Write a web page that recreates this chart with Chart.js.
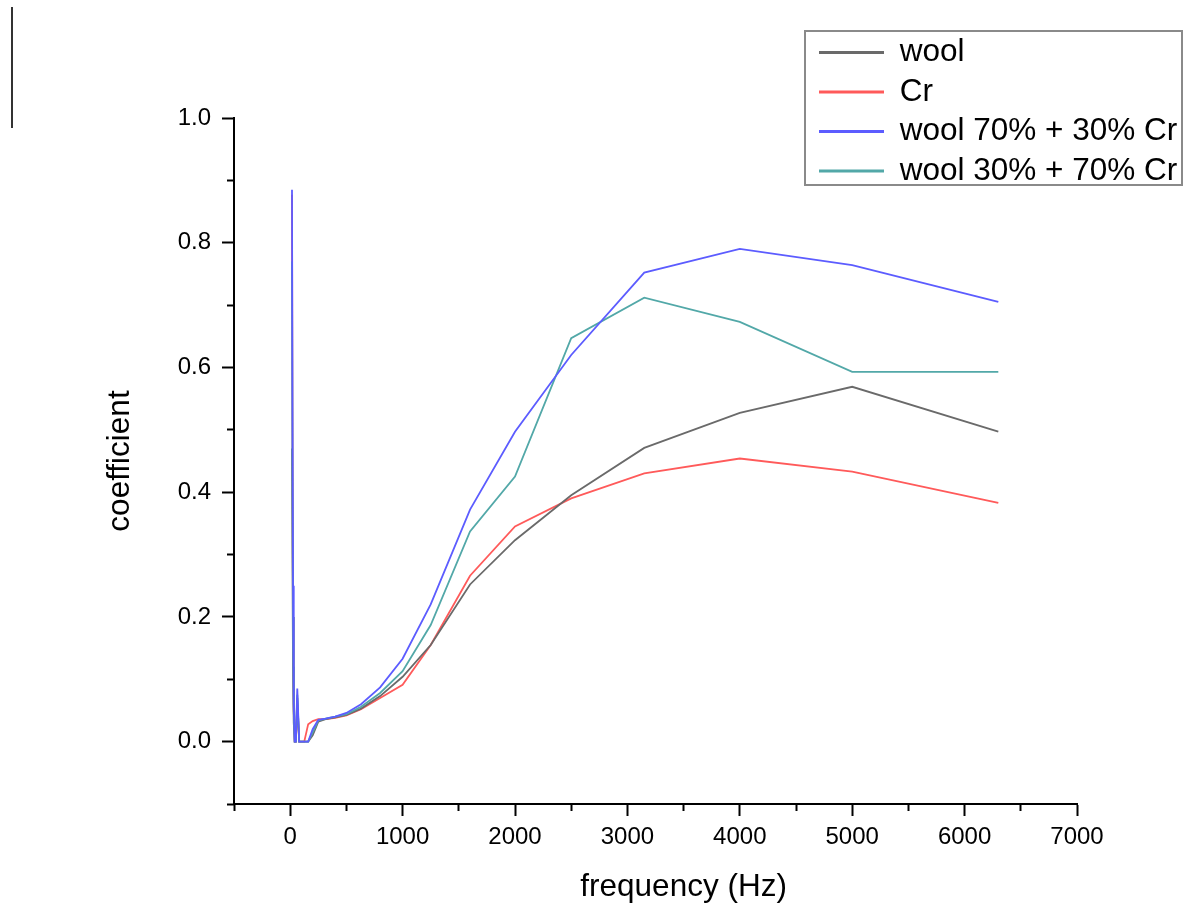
<!DOCTYPE html>
<html>
<head>
<meta charset="utf-8">
<script src="https://cdn.jsdelivr.net/npm/chart.js@4.4.0/dist/chart.umd.min.js"></script>
<style>
html, body { margin: 0; padding: 0; background: #ffffff; }
canvas { display: block; }
</style>
</head>
<body>
<canvas id="c" width="1186" height="907"></canvas>
<script>
// ---- data ----
const freqHz = [16, 20, 25, 31.5, 40, 50, 63, 80, 100, 125, 160, 200, 250, 315, 400, 500, 630, 800, 1000, 1250, 1600, 2000, 2500, 3150, 4000, 5000, 6300];
const wool       = [0.47, 0.30, 0.12, 0.03, 0, 0, 0.07, 0, 0, 0, 0, 0.010, 0.032, 0.036, 0.039, 0.043, 0.053, 0.073, 0.104, 0.155, 0.252, 0.323, 0.395, 0.471, 0.527, 0.569, 0.497];
const cr         = [0.877, 0.50, 0.20, 0.05, 0, 0, 0.06, 0, 0, 0, 0.028, 0.033, 0.036, 0.036, 0.038, 0.042, 0.052, 0.070, 0.091, 0.155, 0.266, 0.345, 0.390, 0.430, 0.454, 0.433, 0.383];
const wool70cr30 = [0.885, 0.55, 0.25, 0.06, 0, 0, 0.085, 0, 0, 0, 0, 0.020, 0.035, 0.037, 0.040, 0.046, 0.060, 0.087, 0.133, 0.220, 0.372, 0.497, 0.620, 0.752, 0.790, 0.764, 0.705];
const wool30cr70 = [0.77, 0.45, 0.20, 0.05, 0, 0, 0.075, 0, 0, 0, 0, 0.015, 0.034, 0.037, 0.040, 0.044, 0.056, 0.078, 0.113, 0.187, 0.337, 0.425, 0.647, 0.712, 0.673, 0.593, 0.593];

const seriesNames = ['wool', 'Cr', 'wool 70% + 30% Cr', 'wool 30% + 70% Cr'];
const seriesValues = [wool, cr, wool70cr30, wool30cr70];

const xMajorTicks = [0, 1000, 2000, 3000, 4000, 5000, 6000, 7000];
const xMinorTicks = [-500, 500, 1500, 2500, 3500, 4500, 5500, 6500];
const yMajorTicks = [0.0, 0.2, 0.4, 0.6, 0.8, 1.0];
const yMinorTicks = [-0.1, 0.1, 0.3, 0.5, 0.7, 0.9];
const xLimits = [-500, 7000];
const yLimits = [-0.1, 1.0];

// ---- styles ----
const seriesColors = ['#6a6a6a', '#ff5a5a', '#5c5cff', '#52a8a8'];
const drawOrder = [2, 3, 0, 1];
const FONT = "'Liberation Sans', Arial, Helvetica, sans-serif";
const INK = '#000000';

const datasets = seriesNames.map((name, i) => ({
  label: name,
  data: freqHz.map((f, j) => ({ x: f, y: seriesValues[i][j] })),
  borderColor: seriesColors[i],
  backgroundColor: seriesColors[i],
  borderWidth: 1.8,
  pointRadius: 0,
  pointHoverRadius: 0,
  tension: 0,
  fill: false,
  order: drawOrder[i],
  xAxisID: 'x',
  yAxisID: 'y'
}));

const layoutPlugin = {
  id: 'layoutTweaks',
  afterLayout(chart) {
    // place the legend box in the upper right, overlapping the plot top
    const lg = chart.legend;
    if (lg) {
      lg.left = 811; lg.top = 28.8; lg.width = 374; lg.height = 240;
      lg.right = lg.left + lg.width; lg.bottom = lg.top + lg.height;
    }
    // centre the x-axis title over the 0..7000 span like the original
    const xs = chart.scales.x;
    if (xs && !xs.__titleShift) {
      const orig = xs.drawTitle;
      xs.drawTitle = function () {
        const l = this.left;
        this.left = this.getPixelForValue(xMajorTicks[0]);
        orig.call(this);
        this.left = l;
      };
      xs.__titleShift = true;
    }
  },
  afterDraw(chart) {
    const ctx = chart.ctx;
    ctx.save();
    // legend frame
    ctx.strokeStyle = '#8a8a8a';
    ctx.lineWidth = 2;
    ctx.strokeRect(805, 31, 377, 154);
    // stray vertical stroke at the top-left of the picture
    ctx.strokeStyle = '#333333';
    ctx.lineWidth = 2;
    ctx.beginPath();
    ctx.moveTo(12, 7);
    ctx.lineTo(12, 128);
    ctx.stroke();
    ctx.restore();
  }
};

new Chart(document.getElementById('c'), {
  type: 'line',
  data: { datasets },
  options: {
    responsive: false,
    animation: false,
    devicePixelRatio: 1,
    events: [],
    layout: { padding: { top: 118, right: 109, bottom: 0, left: 0 } },
    plugins: {
      tooltip: { enabled: false },
      title: { display: false },
      legend: {
        display: true,
        position: 'chartArea',
        align: 'start',
        labels: {
          boxWidth: 65,
          boxHeight: 3,
          padding: 8,
          color: '#000',
          font: { size: 31.5, family: FONT },
          generateLabels(chart) {
            const items = Chart.defaults.plugins.legend.labels.generateLabels(chart);
            items.sort((a, b) => a.datasetIndex - b.datasetIndex);
            items.forEach(it => { it.fillStyle = it.strokeStyle; it.lineWidth = 0; });
            return items;
          }
        }
      }
    },
    scales: {
      x: {
        type: 'linear', position: 'bottom', weight: 1,
        min: xLimits[0], max: xLimits[1],
        afterBuildTicks: s => { s.ticks = xMajorTicks.map(v => ({ value: v })); },
        afterFit: s => { s.height = 103; },
        ticks: { autoSkip: false, maxRotation: 0, padding: 7, color: INK, font: { size: 24, family: FONT }, callback: v => String(v) },
        grid: { drawOnChartArea: false, drawTicks: true, tickLength: 12, tickWidth: 2, color: INK },
        border: { display: true, color: INK, width: 2 },
        title: { display: true, text: 'frequency (Hz)', color: INK, font: { size: 31.5, family: FONT, lineHeight: 1.2 }, padding: { top: 0, bottom: 1 } }
      },
      xMinor: {
        type: 'linear', position: 'bottom', weight: 0,
        min: xLimits[0], max: xLimits[1],
        afterBuildTicks: s => { s.ticks = xMinorTicks.map(v => ({ value: v })); },
        afterFit: s => { s.height = 0; },
        ticks: { display: false },
        grid: { drawOnChartArea: false, drawTicks: true, tickLength: 7, tickWidth: 2, color: INK },
        border: { display: false }
      },
      y: {
        type: 'linear', position: 'left', weight: 1,
        min: yLimits[0], max: yLimits[1],
        afterBuildTicks: s => { s.ticks = yMajorTicks.map(v => ({ value: v })); },
        afterFit: s => { s.width = 234; },
        ticks: { padding: 11, color: INK, font: { size: 24, family: FONT }, callback: v => Number(v).toFixed(1) },
        grid: { drawOnChartArea: false, drawTicks: true, tickLength: 12, tickWidth: 2, color: INK },
        border: { display: true, color: INK, width: 2 },
        title: { display: true, text: 'coefficient', color: INK, font: { size: 31.5, family: FONT, lineHeight: 1.2 }, padding: { top: 101.4, bottom: 0 } }
      },
      yMinor: {
        type: 'linear', position: 'left', weight: 0,
        min: yLimits[0], max: yLimits[1],
        afterBuildTicks: s => { s.ticks = yMinorTicks.map(v => ({ value: v })); },
        afterFit: s => { s.width = 0; },
        ticks: { display: false },
        grid: { drawOnChartArea: false, drawTicks: true, tickLength: 7, tickWidth: 2, color: INK },
        border: { display: false }
      }
    }
  },
  plugins: [layoutPlugin]
});
</script>
</body>
</html>
